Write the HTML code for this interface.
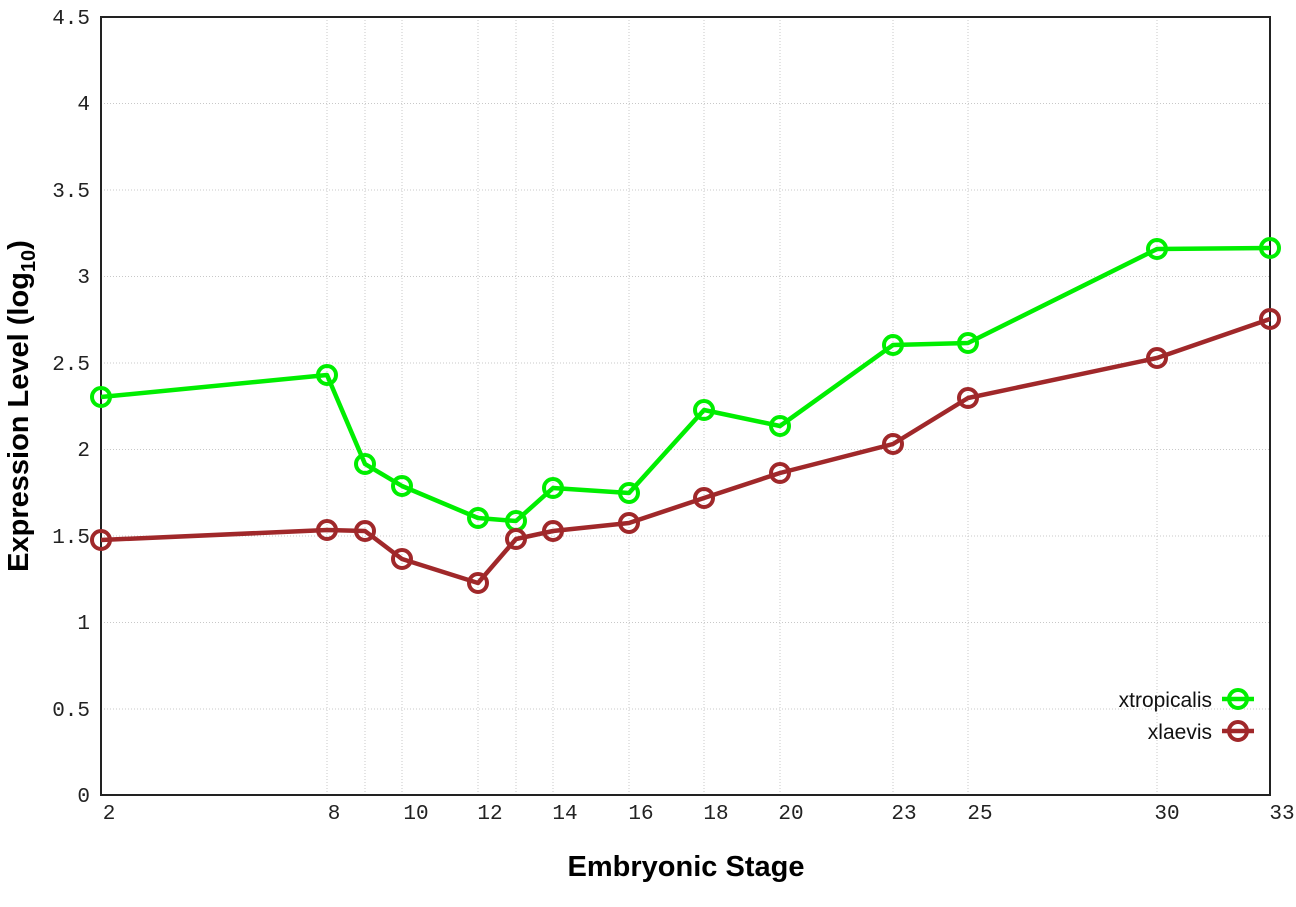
<!DOCTYPE html>
<html><head><style>body{margin:0;background:#fff}svg{display:block}</style></head><body>
<svg width="1296" height="907" xmlns="http://www.w3.org/2000/svg">
<g stroke="#c8c8c8" stroke-width="1" stroke-dasharray="1,2">
<line x1="101" x2="1270" y1="103.5" y2="103.5"/><line x1="101" x2="1270" y1="190" y2="190"/><line x1="101" x2="1270" y1="276.5" y2="276.5"/><line x1="101" x2="1270" y1="363" y2="363"/><line x1="101" x2="1270" y1="449.5" y2="449.5"/><line x1="101" x2="1270" y1="536" y2="536"/><line x1="101" x2="1270" y1="622.5" y2="622.5"/><line x1="101" x2="1270" y1="709" y2="709"/>
<line x1="327" x2="327" y1="17" y2="795"/><line x1="365" x2="365" y1="17" y2="795"/><line x1="402" x2="402" y1="17" y2="795"/><line x1="478" x2="478" y1="17" y2="795"/><line x1="516" x2="516" y1="17" y2="795"/><line x1="553" x2="553" y1="17" y2="795"/><line x1="629" x2="629" y1="17" y2="795"/><line x1="704" x2="704" y1="17" y2="795"/><line x1="780" x2="780" y1="17" y2="795"/><line x1="893" x2="893" y1="17" y2="795"/><line x1="968" x2="968" y1="17" y2="795"/><line x1="1157" x2="1157" y1="17" y2="795"/>
</g>
<rect x="101" y="17" width="1169" height="778" fill="none" stroke="#222" stroke-width="2"/>
<g font-family="Liberation Mono, monospace" font-size="21" fill="#222" text-anchor="end">
<text x="90" y="24">4.5</text><text x="90" y="110">4</text><text x="90" y="197">3.5</text><text x="90" y="283">3</text><text x="90" y="370">2.5</text><text x="90" y="456">2</text><text x="90" y="543">1.5</text><text x="90" y="629">1</text><text x="90" y="716">0.5</text><text x="90" y="802">0</text>
</g>
<g font-family="Liberation Mono, monospace" font-size="21" fill="#222" text-anchor="middle">
<text x="109" y="819">2</text><text x="334" y="819">8</text><text x="416" y="819">10</text><text x="490" y="819">12</text><text x="565" y="819">14</text><text x="641" y="819">16</text><text x="716" y="819">18</text><text x="791" y="819">20</text><text x="904" y="819">23</text><text x="980" y="819">25</text><text x="1167" y="819">30</text><text x="1282" y="819">33</text>
</g>
<text x="686" y="876" font-family="Liberation Sans, sans-serif" font-weight="bold" font-size="29" text-anchor="middle" fill="#000">Embryonic Stage</text>
<text transform="translate(28,406) rotate(-90)" font-family="Liberation Sans, sans-serif" font-weight="bold" font-size="29" text-anchor="middle" fill="#000">Expression Level (log<tspan font-size="20" dy="7">10</tspan><tspan dy="-7">)</tspan></text>
<g fill="none" stroke-width="4.5" stroke-linejoin="round">
<polyline stroke="#00ee00" points="101,397 327,375 365,464 402,486 478,518 516,521 553,488 629,493 704,410 780,426 893,345 968,343 1157,249 1270,248"/>
<polyline stroke="#a0282a" points="101,540 327,530 365,531 402,559 478,583 516,539 553,531 629,523 704,498 780,473 893,444 968,398 1157,358 1270,319"/>
</g>
<g fill="none" stroke-width="4" stroke="#00ee00">
<circle cx="101" cy="397" r="9"/><circle cx="327" cy="375" r="9"/><circle cx="365" cy="464" r="9"/><circle cx="402" cy="486" r="9"/><circle cx="478" cy="518" r="9"/><circle cx="516" cy="521" r="9"/><circle cx="553" cy="488" r="9"/><circle cx="629" cy="493" r="9"/><circle cx="704" cy="410" r="9"/><circle cx="780" cy="426" r="9"/><circle cx="893" cy="345" r="9"/><circle cx="968" cy="343" r="9"/><circle cx="1157" cy="249" r="9"/><circle cx="1270" cy="248" r="9"/>
<circle cx="1238" cy="699" r="9"/>
</g>
<g fill="none" stroke-width="4" stroke="#a0282a">
<circle cx="101" cy="540" r="9"/><circle cx="327" cy="530" r="9"/><circle cx="365" cy="531" r="9"/><circle cx="402" cy="559" r="9"/><circle cx="478" cy="583" r="9"/><circle cx="516" cy="539" r="9"/><circle cx="553" cy="531" r="9"/><circle cx="629" cy="523" r="9"/><circle cx="704" cy="498" r="9"/><circle cx="780" cy="473" r="9"/><circle cx="893" cy="444" r="9"/><circle cx="968" cy="398" r="9"/><circle cx="1157" cy="358" r="9"/><circle cx="1270" cy="319" r="9"/>
<circle cx="1238" cy="731" r="9"/>
</g>
<line x1="1222" x2="1254" y1="699" y2="699" stroke="#00ee00" stroke-width="4.5"/>
<line x1="1222" x2="1254" y1="731" y2="731" stroke="#a0282a" stroke-width="4.5"/>
<g font-family="Liberation Sans, sans-serif" font-size="21" fill="#111" text-anchor="end">
<text x="1212" y="707">xtropicalis</text><text x="1212" y="739">xlaevis</text>
</g>
</svg>
</body></html>
